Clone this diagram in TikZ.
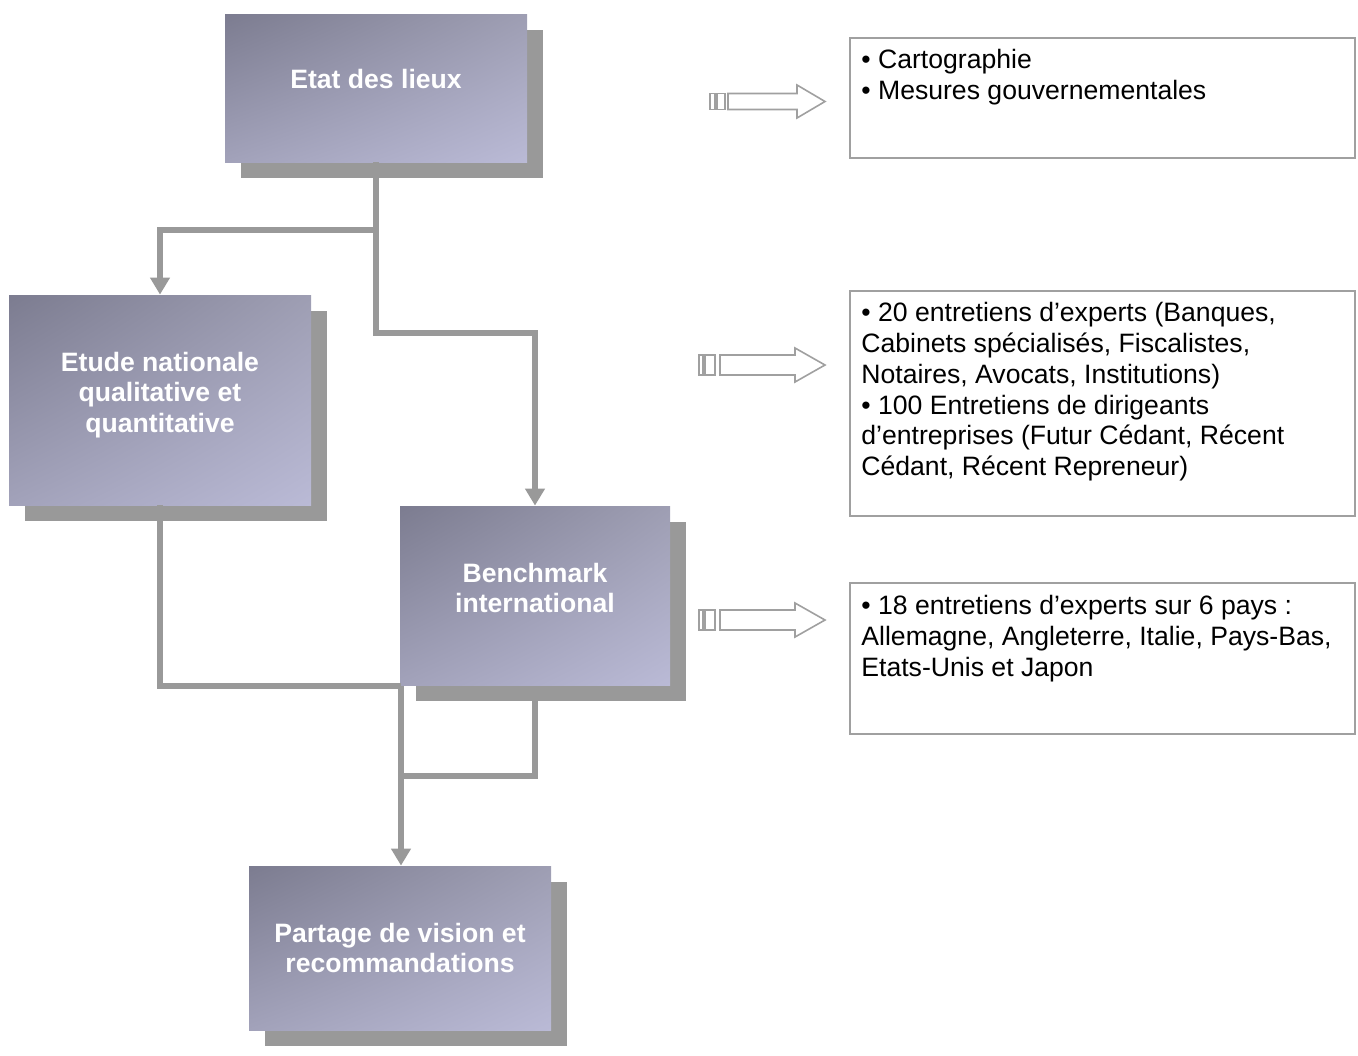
\documentclass[tikz,border=0pt]{standalone}
\usepackage{fontspec}
\setmainfont{Liberation Sans}
\usetikzlibrary{arrows.meta,shadows,shadings,calc}
\definecolor{shadowgray}{HTML}{999999}
\definecolor{linegray}{HTML}{999999}
\definecolor{framegray}{HTML}{A0A0A0}
\definecolor{cUL}{HTML}{7C7C90}
\definecolor{cUR}{HTML}{9E9EB3}
\definecolor{cLL}{HTML}{A2A2BA}
\definecolor{cLR}{HTML}{BABAD6}
\tikzset{
  stepbox/.style={rectangle, inner sep=0pt, shade,
    upper left=cUL, upper right=cUR, lower left=cLL, lower right=cLR,
    general shadow={fill=shadowgray, shadow xshift=8pt, shadow yshift=-8pt}},
  boxtext/.style={inner sep=0pt, align=center, text=white,
    font=\fontsize{13.3}{15.2}\selectfont\bfseries},
  infobox/.style={rectangle, draw=framegray, line width=1pt, inner sep=0pt},
  infotext/.style={inner sep=0pt, align=left, anchor=north west,
    font=\fontsize{13.3}{15.4}\selectfont},
  conn/.style={draw=linegray, line width=2.6pt},
  connarrow/.style={conn, -{Triangle[width=9.5pt,length=8.5pt]}},
  hollow/.style={draw=framegray, line width=0.8pt, fill=white, line join=miter}
}
\begin{document}
\begin{tikzpicture}[x=0.5pt, y=-0.5pt]
\useasboundingbox (0,0) rectangle (1358,1055);

% main boxes
\node[stepbox, minimum width=151pt, minimum height=74pt] (b1) at (376,88) {};
\node[stepbox, minimum width=151pt, minimum height=105pt] (b2) at (160,400) {};
\node[stepbox, minimum width=135pt, minimum height=89.5pt] (b3) at (535,595.5) {};
\node[stepbox, minimum width=151pt, minimum height=82pt] (b4) at (400,948) {};

\node[boxtext] (t1) at (376,79) {Etat des lieux};
\node[boxtext] (t2) at (160,395) {Etude nationale\\qualitative et\\quantitative};
\node[boxtext] (t3) at (535,588) {Benchmark\\international};
\node[boxtext] (t4) at (400,948) {Partage de vision et\\recommandations};

% connectors
\coordinate (j1) at (376,230);
\coordinate (j2) at (376,333);
\coordinate (j3) at (401,686);
\coordinate (j4) at (401,776);
\draw[connarrow] (b1.south) -- (j1) -| (b2.north);
\draw[connarrow] (j1) -- (j2) -| (b3.north);
\draw[conn] (b2.south) |- (j3);
\draw[conn] ($(b3.south)+(0,15)$) |- (j4);
\draw[connarrow] (j3) -- (b4.north -| j3);

% info boxes
\node[infobox, minimum width=252.5pt, minimum height=60pt, anchor=north west] (r1) at (849,37) {};
\node[infobox, minimum width=252.5pt, minimum height=112.5pt, anchor=north west] (r2) at (849,290) {};
\node[infobox, minimum width=252.5pt, minimum height=75.5pt, anchor=north west] (r3) at (849,582) {};

\node[infotext] (i1) at ($(r1.north west)+(12,12)$) {• Cartographie\\• Mesures gouvernementales};
\node[infotext] (i2) at ($(r2.north west)+(12,12)$) {• 20 entretiens d’experts (Banques,\\Cabinets spécialisés, Fiscalistes,\\Notaires, Avocats, Institutions)\\• 100 Entretiens de dirigeants\\d’entreprises (Futur Cédant, Récent\\Cédant, Récent Repreneur)};
\node[infotext] (i3) at ($(r3.north west)+(12,13)$) {• 18 entretiens d’experts sur 6 pays :\\Allemagne, Angleterre, Italie, Pays-Bas,\\Etats-Unis et Japon};

% hollow arrows
\coordinate (a1) at (825,101.5);
\coordinate (a2) at (825,365);
\coordinate (a3) at (825,620);
\begin{scope}[shift={(a1)}]
  \draw[hollow] (-115,-8) rectangle (-110,8);
  \draw[hollow] (-108,-8) rectangle (-100,8);
  \draw[hollow] (-97,-8) -- (-28,-8) -- (-28,-16.5) -- (0,0) -- (-28,16.5) -- (-28,8) -- (-97,8) -- cycle;
\end{scope}
\foreach \a in {a2,a3}{
\begin{scope}[shift={(\a)}]
  \draw[hollow] (-126,-10) rectangle (-122,10);
  \draw[hollow] (-120,-10) rectangle (-110,10);
  \draw[hollow] (-105,-10) -- (-30,-10) -- (-30,-17) -- (0,0) -- (-30,17) -- (-30,10) -- (-105,10) -- cycle;
\end{scope}
}
\end{tikzpicture}
\end{document}
